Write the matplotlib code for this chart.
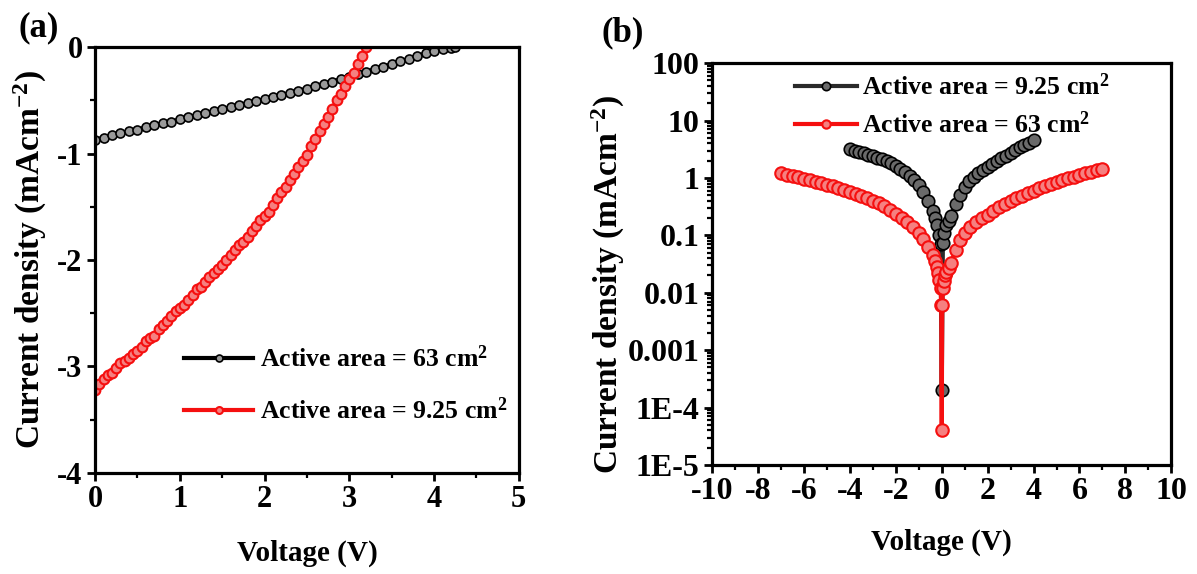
import matplotlib.pyplot as plt
from matplotlib.ticker import MultipleLocator, LogLocator, NullFormatter

plt.rcParams['font.family'] = 'Liberation Serif'
plt.rcParams['font.weight'] = 'bold'
plt.rcParams['axes.labelweight'] = 'bold'
plt.rcParams['axes.unicode_minus'] = False
plt.rcParams['mathtext.fontset'] = 'custom'
plt.rcParams['mathtext.rm'] = 'Liberation Serif:bold'
plt.rcParams['mathtext.bf'] = 'Liberation Serif:bold'
plt.rcParams['mathtext.default'] = 'bf'

# (a) J-V curves ---------------------------
va_63 = [0.0, 0.1, 0.2, 0.3, 0.4, 0.5, 0.6, 0.7, 0.8, 0.9, 1.0, 1.1, 1.2, 1.3, 1.4,
         1.5, 1.6, 1.7, 1.8, 1.9, 2.0, 2.1, 2.2, 2.3, 2.4, 2.5, 2.6, 2.7, 2.8, 2.9,
         3.0, 3.1, 3.2, 3.3, 3.4, 3.5, 3.6, 3.7, 3.8, 3.9, 4.0, 4.1, 4.2, 4.25]
ja_63 = [-0.87, -0.85, -0.83, -0.81, -0.79, -0.775, -0.755, -0.735, -0.715, -0.70,
         -0.68, -0.66, -0.64, -0.62, -0.605, -0.585, -0.565, -0.545, -0.525, -0.51,
         -0.49, -0.47, -0.45, -0.43, -0.41, -0.39, -0.365, -0.345, -0.325, -0.30,
         -0.28, -0.255, -0.23, -0.21, -0.185, -0.16, -0.135, -0.11, -0.085, -0.06,
         -0.04, -0.02, -0.005, 0.0]

va_925 = [0.00, 0.05, 0.10, 0.15, 0.20, 0.25, 0.30, 0.35, 0.40, 0.45, 0.50, 0.55,
          0.60, 0.65, 0.70, 0.75, 0.80, 0.85, 0.90, 0.95, 1.00, 1.05, 1.10, 1.15,
          1.20, 1.25, 1.30, 1.35, 1.40, 1.45, 1.50, 1.55, 1.60, 1.65, 1.70, 1.75,
          1.80, 1.85, 1.90, 1.95, 2.00, 2.05, 2.10, 2.15, 2.20, 2.25, 2.30, 2.35,
          2.40, 2.45, 2.50, 2.55, 2.60, 2.65, 2.70, 2.75, 2.80, 2.85, 2.90, 2.95,
          3.00, 3.05, 3.10, 3.15, 3.20]
ja_925 = [-3.22, -3.16, -3.12, -3.08, -3.06, -3.01, -2.97, -2.95, -2.92, -2.88,
          -2.85, -2.82, -2.76, -2.73, -2.71, -2.65, -2.61, -2.57, -2.53, -2.48,
          -2.45, -2.42, -2.38, -2.33, -2.27, -2.25, -2.21, -2.16, -2.12, -2.08,
          -2.05, -2.00, -1.95, -1.91, -1.86, -1.83, -1.78, -1.73, -1.68, -1.62,
          -1.59, -1.55, -1.48, -1.42, -1.36, -1.31, -1.25, -1.19, -1.13, -1.07,
          -1.01, -0.93, -0.86, -0.79, -0.72, -0.66, -0.58, -0.50, -0.44, -0.37,
          -0.30, -0.24, -0.16, -0.08, 0.00]

# (b) dark J-V on log scale -----
vb_925 = [-4.0, -3.8, -3.6, -3.4, -3.2, -3.0, -2.8, -2.6, -2.4, -2.2, -2.0, -1.8,
          -1.6, -1.4, -1.2, -1.0, -0.8, -0.6, -0.4, -0.3, -0.2, -0.1, -0.05, 0.0,
          0.05, 0.1, 0.2, 0.3, 0.4, 0.6, 0.8, 1.0, 1.2, 1.4, 1.6, 1.8, 2.0, 2.2,
          2.4, 2.6, 2.8, 3.0, 3.2, 3.4, 3.6, 3.8, 4.0]
jb_925 = [3.2, 3.0, 2.85, 2.7, 2.55, 2.4, 2.25, 2.1, 1.95, 1.8, 1.62, 1.45,
          1.28, 1.1, 0.92, 0.74, 0.56, 0.4, 0.27, 0.2, 0.15, 0.1, 0.07, 2e-4,
          0.075, 0.11, 0.15, 0.18, 0.22, 0.35, 0.5, 0.7, 0.88, 1.02, 1.2, 1.38,
          1.55, 1.75, 1.95, 2.2, 2.45, 2.75, 3.05, 3.4, 3.75, 4.1, 4.5]

vb_63 = [-7.0, -6.75, -6.5, -6.25, -6.0, -5.75, -5.5, -5.25, -5.0, -4.75, -4.5,
         -4.25, -4.0, -3.75, -3.5, -3.25, -3.0, -2.75, -2.5, -2.25, -2.0, -1.75,
         -1.5, -1.25, -1.0, -0.8, -0.6, -0.4, -0.3, -0.2, -0.15, -0.1, -0.05,
         -0.02, 0.0, 0.02, 0.05, 0.1, 0.15, 0.2, 0.3, 0.4, 0.6, 0.8, 1.0, 1.25,
         1.5, 1.75, 2.0, 2.25, 2.5, 2.75, 3.0, 3.25, 3.5, 3.75, 4.0, 4.25, 4.5,
         4.75, 5.0, 5.25, 5.5, 5.75, 6.0, 6.25, 6.5, 6.75, 7.0]
jb_63 = [1.20, 1.14, 1.08, 1.02, 0.96, 0.91, 0.86, 0.81, 0.76, 0.71, 0.66,
         0.61, 0.57, 0.52, 0.48, 0.44, 0.40, 0.36, 0.32, 0.28, 0.24, 0.20,
         0.17, 0.14, 0.11, 0.085, 0.063, 0.045, 0.036, 0.028, 0.022, 0.017, 0.012,
         0.006, 4e-5, 0.006, 0.012, 0.016, 0.020, 0.023, 0.027, 0.033, 0.055, 0.083, 0.11, 0.14,
         0.17, 0.20, 0.23, 0.27, 0.31, 0.35, 0.39, 0.44, 0.49, 0.54, 0.59, 0.66, 0.72,
         0.78, 0.85, 0.91, 0.98, 1.05, 1.12, 1.20, 1.28, 1.37, 1.45]

b_yticks = [1e-5, 1e-4, 1e-3, 1e-2, 1e-1, 1, 10, 100]
b_yticklabels = ['1E-5', '1E-4', '0.001', '0.01', '0.1', '1', '10', '100']

RED = '#f50f0f'
fig = plt.figure(figsize=(11.97, 5.74), dpi=100)
ax_a = fig.add_axes([0.0794, 0.176, 0.354, 0.742])
ax_b = fig.add_axes([0.595, 0.190, 0.3835, 0.700])


def style(ax, size):
    for s in ax.spines.values():
        s.set_linewidth(2.3)
    ax.tick_params(which='major', direction='out', length=6, width=2.0, labelsize=size,
                   top=False, right=False, pad=3)
    ax.tick_params(which='minor', direction='out', length=3.5, width=1.6,
                   top=False, right=False)


# Panel (a) ---
ax_a.plot(va_63, ja_63, '-o', color='black', lw=3, ms=6.5, mfc='#9a9a9a', mec='black',
          mew=1.2, label='Active area = 63 cm$^{2}$')
ax_a.plot(va_925, ja_925, '-o', color=RED, lw=3, ms=7, mfc='#f58080', mec=RED,
          mew=1.5, label='Active area = 9.25 cm$^{2}$')
ax_a.set_xlim(0, 5)
ax_a.set_ylim(-4, 0)
ax_a.xaxis.set_major_locator(MultipleLocator(1))
ax_a.xaxis.set_minor_locator(MultipleLocator(0.5))
ax_a.yaxis.set_major_locator(MultipleLocator(1))
ax_a.yaxis.set_minor_locator(MultipleLocator(0.5))
style(ax_a, 22)
ax_a.set_xlabel('Voltage (V)', fontsize=21, labelpad=18)
ax_a.set_ylabel('Current density (mAcm$^{-2}$)', fontsize=24, labelpad=6)
leg_a = ax_a.legend(loc='upper left', bbox_to_anchor=(0.21, 0.30), frameon=False,
                    fontsize=18.5, borderpad=0, borderaxespad=0, handlelength=2.7,
                    handletextpad=0.25, labelspacing=1.0, numpoints=1)
for h in leg_a.get_lines():
    h.set_markersize(5)

# Panel (b) ---
ax_b.plot(vb_925, jb_925, '-o', color='#2a2a2a', lw=3, ms=9, mfc='#6a6a6a',
          mec='black', mew=1.2, label='Active area = 9.25 cm$^{2}$')
ax_b.plot(vb_63, jb_63, '-o', color=RED, lw=3, ms=9, mfc='#f58080', mec=RED,
          mew=1.5, label='Active area = 63 cm$^{2}$')
ax_b.set_yscale('log')
ax_b.set_xlim(-10, 10)
ax_b.set_ylim(1e-5, 100)
ax_b.xaxis.set_major_locator(MultipleLocator(2))
ax_b.xaxis.set_minor_locator(MultipleLocator(1))
ax_b.set_yticks(b_yticks)
ax_b.set_yticklabels(b_yticklabels)
ax_b.yaxis.set_minor_locator(LogLocator(base=10, subs=range(2, 10), numticks=20))
ax_b.yaxis.set_minor_formatter(NullFormatter())
style(ax_b, 23)
ax_b.set_xlabel('Voltage (V)', fontsize=21, labelpad=16)
ax_b.set_ylabel('Current density (mAcm$^{-2}$)', fontsize=24)
ax_b.yaxis.set_label_coords(-0.185, 0.45)
leg_b = ax_b.legend(loc='upper left', bbox_to_anchor=(0.18, 0.975), frameon=False,
                    fontsize=18.5, borderpad=0, borderaxespad=0, handlelength=2.4,
                    handletextpad=0.2, labelspacing=0.45, numpoints=1)
for h in leg_b.get_lines():
    h.set_markersize(6)

fig.text(0.032, 0.951, '(a)', fontsize=25, ha='center', va='center')
fig.text(0.520, 0.942, '(b)', fontsize=25, ha='center', va='center')

fig.savefig('out.png', dpi=100)
